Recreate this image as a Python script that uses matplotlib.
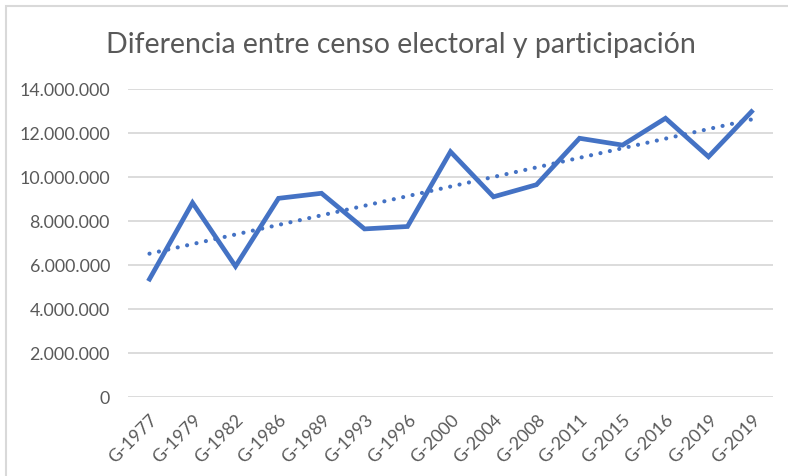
import numpy as np
import matplotlib
matplotlib.use('Agg')
import matplotlib.pyplot as plt
from matplotlib.patches import Rectangle
from matplotlib.ticker import FuncFormatter

plt.rcParams['font.family'] = ['Lato', 'DejaVu Sans']

# data
elecciones = ['G-1977', 'G-1979', 'G-1982', 'G-1986', 'G-1989', 'G-1993', 'G-1996',
              'G-2000', 'G-2004', 'G-2008', 'G-2011', 'G-2015', 'G-2016', 'G-2019', 'G-2019']
diferencia = [5360000, 8830000, 5940000, 9030000, 9260000, 7640000, 7750000,
              11150000, 9100000, 9650000, 11760000, 11450000, 12670000, 10920000, 12970000]
yticks = [0, 2000000, 4000000, 6000000, 8000000, 10000000, 12000000, 14000000]

azul = '#4472C4'
gris = '#595959'

fig = plt.figure(figsize=(7.88, 4.77), dpi=100)
# chart border (cropped at right and bottom in the reference)
fig.patches.append(Rectangle((6 / 788, -0.1), 1.2, 1 - 7 / 477 + 0.1,
                             transform=fig.transFigure, fill=False,
                             edgecolor='#D9D9D9', linewidth=1.5))

ax = fig.add_axes([128 / 788, 1 - 398 / 477, (773 - 128) / 788, (398 - 90) / 477])
x = np.arange(len(elecciones))
ax.plot(x, diferencia, color=azul, linewidth=3.4, solid_joinstyle='miter', zorder=3)

# linear trendline
m, b = np.polyfit(x, diferencia, 1)
ax.plot(x, m * x + b, color=azul, linewidth=3.0, linestyle=(0, (0.01, 2.3)),
        dash_capstyle='round', zorder=2)

ax.set_xlim(-0.5, len(elecciones) - 0.5)
ax.set_ylim(0, 14000000)
ax.set_yticks(yticks)
ax.yaxis.set_major_formatter(FuncFormatter(lambda v, p: f'{int(v):,}'.replace(',', '.')))
ax.grid(axis='y', color='#D9D9D9', linewidth=1.3)
ax.set_axisbelow(True)
for s in ax.spines.values():
    s.set_visible(False)
ax.tick_params(length=0, colors=gris, labelsize=12.8)
ax.tick_params(axis='y', pad=13)
ax.set_xticks(x)
ax.set_xticklabels(elecciones, rotation=45, ha='right', va='top', rotation_mode='anchor')
ax.tick_params(axis='x', pad=10)

fig.text(0.5 * (109 + 693) / 788, 1 - 45 / 477, 'Diferencia entre censo electoral y participación',
         ha='center', va='center', fontsize=20.5, color=gris)

fig.savefig('out.png', dpi=100)
